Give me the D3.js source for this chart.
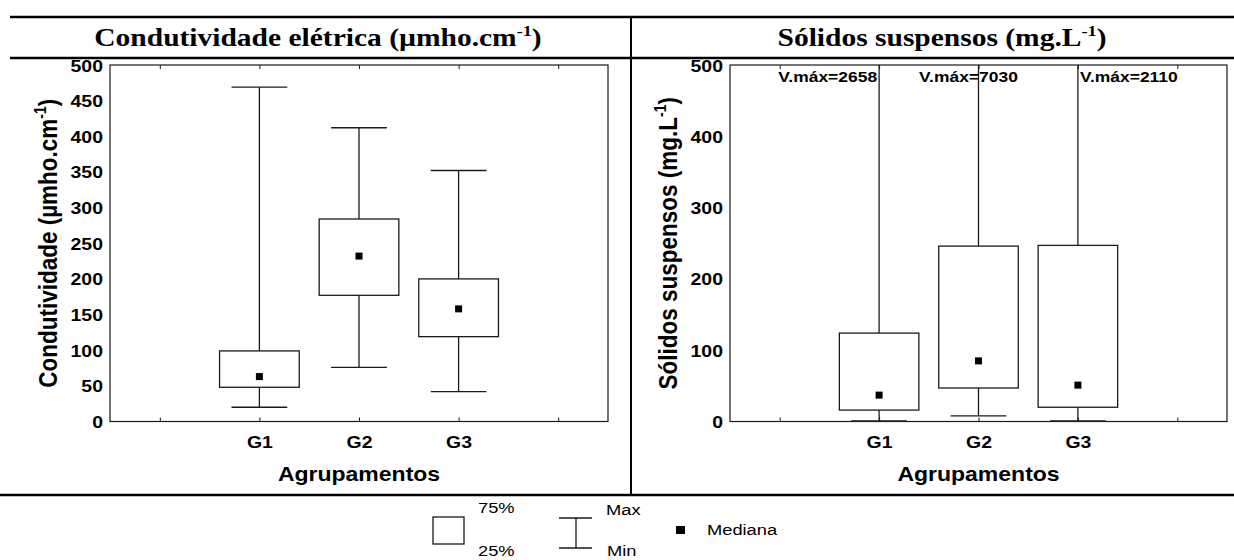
<!DOCTYPE html>
<html>
<head>
<meta charset="utf-8">
<script src="https://cdn.jsdelivr.net/npm/d3@7"></script>
<style>
  body { margin: 0; background: #fff; }
  svg { display: block; }
</style>
</head>
<body>
<svg id="chart" width="1234" height="560"></svg>
<script>
// groups and box plot statistics
const groups = ["G1", "G2", "G3"];

// Condutividade elétrica (µmho.cm-1)
const condMin = [20, 76, 42];
const condQ1 = [48, 177, 119];
const condMedian = [63, 232, 158];
const condQ3 = [99, 284, 200];
const condMax = [469, 412, 352];
const condTicks = [0, 50, 100, 150, 200, 250, 300, 350, 400, 450, 500];

// Sólidos suspensos (mg.L-1)
const solMin = [1, 8, 1];
const solQ1 = [16, 47, 20];
const solMedian = [37, 85, 51];
const solQ3 = [124, 246, 247];
const solMax = [2658, 7030, 2110];
const solTicks = [0, 100, 200, 300, 400, 500];

const SX = 1.18; // the original figure is stretched horizontally
const sans = "'Liberation Sans', Arial, sans-serif";
const serif = "'Liberation Serif', 'Times New Roman', serif";
const ink = "#1a1a1a";

const svg = d3.select("#chart");

// stretched text helper
function label(g, x, y, anchor, size, weight, family, rotate) {
    return g.append("text")
        .attr("transform", `translate(${x},${y}) scale(${SX},1)` + (rotate ? " rotate(-90)" : ""))
        .attr("text-anchor", anchor)
        .attr("font-family", family)
        .attr("font-size", size)
        .attr("font-weight", weight)
        .attr("fill", "#000");
}

function withSup(t, main, sup, tail, size) {
    t.append("tspan").text(main);
    t.append("tspan").text(sup).attr("font-size", size * 0.62).attr("dy", -size * 0.42);
    t.append("tspan").text(tail).attr("dy", size * 0.42);
}

// frame lines of the table
svg.append("line").attr("x1", 10).attr("x2", 1234).attr("y1", 17).attr("y2", 17)
    .attr("stroke", "#000").attr("stroke-width", 2.5);
svg.append("line").attr("x1", 10).attr("x2", 1234).attr("y1", 58).attr("y2", 58)
    .attr("stroke", "#000").attr("stroke-width", 2.5);
svg.append("line").attr("x1", 0).attr("x2", 1234).attr("y1", 495).attr("y2", 495)
    .attr("stroke", "#000").attr("stroke-width", 2.5);
svg.append("line").attr("x1", 631).attr("x2", 631).attr("y1", 17).attr("y2", 495)
    .attr("stroke", "#000").attr("stroke-width", 2);

function drawPanel(opts) {
    const { left, right, title, titleX, yLabel, yLabelX, ticks,
            mins, q1s, meds, q3s, maxs } = opts;
    const top = 65, bottom = 421.5;

    const x = d3.scaleLinear().domain([-0.5, 4.5]).range([left, right]);
    const y = d3.scaleLinear().domain([0, 500]).range([bottom, top]).clamp(true);

    const g = svg.append("g");

    // title
    const tt = label(g, titleX, 46, "middle", 25, "bold", serif);
    withSup(tt, title, "-1", ")", 25);

    // y axis labels
    const yAxis = g.append("g")
        .attr("transform", `translate(${left},0)`)
        .call(d3.axisLeft(y).tickValues(ticks).tickSize(0).tickPadding(0));
    yAxis.select(".domain").remove();
    yAxis.selectAll("text")
        .attr("x", 0).attr("dy", null).attr("y", 0)
        .attr("transform", `translate(-7,6) scale(${SX},1)`)
        .attr("font-family", sans).attr("font-size", 16.5).attr("font-weight", "bold")
        .attr("fill", "#000");

    // x axis: inward ticks top and bottom
    const cats = [0, 1, 2, 3, 4];
    const xb = g.append("g")
        .attr("transform", `translate(0,${bottom})`)
        .call(d3.axisBottom(x).tickValues(cats).tickSize(-4).tickPadding(0)
            .tickFormat(d => groups[d - 1] || ""));
    xb.select(".domain").remove();
    xb.selectAll("line").attr("stroke", ink);
    xb.selectAll("text")
        .attr("y", 0).attr("dy", null)
        .attr("transform", `translate(0,26) scale(${SX},1)`)
        .attr("font-family", sans).attr("font-size", 16.5).attr("font-weight", "bold")
        .attr("fill", "#000");
    const xt = g.append("g")
        .attr("transform", `translate(0,${top})`)
        .call(d3.axisTop(x).tickValues(cats).tickSize(-4).tickFormat(""));
    xt.select(".domain").remove();
    xt.selectAll("line").attr("stroke", ink);

    // plot frame
    g.append("rect")
        .attr("x", left).attr("y", top)
        .attr("width", right - left).attr("height", bottom - top)
        .attr("fill", "none").attr("stroke", ink).attr("stroke-width", 1.2);

    // x axis title
    label(g, (left + right) / 2, 481, "middle", 19.5, "bold", sans).text("Agrupamentos");

    // y axis title
    const yt = label(g, yLabelX, (top + bottom) / 2, "middle", 22.5, "bold", sans, true)
        .attr("dy", "0.35em");
    withSup(yt, yLabel, "-1", ")", 22.5);

    const boxHalf = 0.4, capHalf = 0.28;
    const boxes = groups.map((name, i) => ({
        pos: i + 1, min: mins[i], q1: q1s[i], med: meds[i], q3: q3s[i], max: maxs[i]
    }));

    const b = g.selectAll(".box").data(boxes).join("g").attr("class", "box");

    // whiskers
    b.append("line")
        .attr("x1", d => x(d.pos)).attr("x2", d => x(d.pos))
        .attr("y1", d => y(d.q3)).attr("y2", d => y(d.max))
        .attr("stroke", ink).attr("stroke-width", 1.3);
    b.append("line")
        .attr("x1", d => x(d.pos)).attr("x2", d => x(d.pos))
        .attr("y1", d => y(d.q1)).attr("y2", d => y(d.min))
        .attr("stroke", ink).attr("stroke-width", 1.3);
    // caps (only where inside the scale)
    b.filter(d => d.max <= 500).append("line")
        .attr("x1", d => x(d.pos - capHalf)).attr("x2", d => x(d.pos + capHalf))
        .attr("y1", d => y(d.max)).attr("y2", d => y(d.max))
        .attr("stroke", ink).attr("stroke-width", 1.3);
    b.append("line")
        .attr("x1", d => x(d.pos - capHalf)).attr("x2", d => x(d.pos + capHalf))
        .attr("y1", d => y(d.min)).attr("y2", d => y(d.min))
        .attr("stroke", ink).attr("stroke-width", 1.3);

    // box 25%-75%
    b.append("rect")
        .attr("x", d => x(d.pos - boxHalf))
        .attr("y", d => y(d.q3))
        .attr("width", d => x(d.pos + boxHalf) - x(d.pos - boxHalf))
        .attr("height", d => y(d.q1) - y(d.q3))
        .attr("fill", "#fff").attr("stroke", ink).attr("stroke-width", 1.3);

    // median
    b.append("rect")
        .attr("x", d => x(d.pos) - 3.5).attr("y", d => y(d.med) - 3.5)
        .attr("width", 7).attr("height", 7).attr("fill", "#000");

    return { g, x, y, boxes };
}

drawPanel({
    left: 110, right: 608, title: "Condutividade elétrica (µmho.cm", titleX: 318,
    yLabel: "Condutividade (µmho.cm", yLabelX: 48, ticks: condTicks,
    mins: condMin, q1s: condQ1, meds: condMedian, q3s: condQ3, maxs: condMax
});

const right = drawPanel({
    left: 730, right: 1227, title: "Sólidos suspensos (mg.L", titleX: 942,
    yLabel: "Sólidos suspensos (mg.L", yLabelX: 668, ticks: solTicks,
    mins: solMin, q1s: solQ1, meds: solMedian, q3s: solQ3, maxs: solMax
});

// off-scale maximum notes
const vmaxAnchor = ["end", "middle", "start"];
const vmaxShift = [-2, -10, 2];
right.boxes.forEach((d, i) => {
    label(right.g, right.x(d.pos) + vmaxShift[i], 82, vmaxAnchor[i], 14.8, "bold", sans)
        .text(`V.máx=${d.max}`);
});

// legend
const lg = svg.append("g");
lg.append("rect").attr("x", 433).attr("y", 517).attr("width", 31).attr("height", 27)
    .attr("fill", "none").attr("stroke", ink).attr("stroke-width", 1.3);
label(lg, 478, 513, "start", 15.5, "normal", sans).text("75%");
label(lg, 478, 556, "start", 15.5, "normal", sans).text("25%");
lg.append("line").attr("x1", 559).attr("x2", 592).attr("y1", 518).attr("y2", 518)
    .attr("stroke", ink).attr("stroke-width", 1.3);
lg.append("line").attr("x1", 559).attr("x2", 592).attr("y1", 548).attr("y2", 548)
    .attr("stroke", ink).attr("stroke-width", 1.3);
lg.append("line").attr("x1", 576).attr("x2", 576).attr("y1", 518).attr("y2", 548)
    .attr("stroke", ink).attr("stroke-width", 1.3);
label(lg, 606, 515, "start", 15.5, "normal", sans).text("Max");
label(lg, 607, 556, "start", 15.5, "normal", sans).text("Min");
lg.append("rect").attr("x", 676).attr("y", 526).attr("width", 9).attr("height", 8).attr("fill", "#000");
label(lg, 707, 535, "start", 15.5, "normal", sans).text("Mediana");
</script>
</body>
</html>
